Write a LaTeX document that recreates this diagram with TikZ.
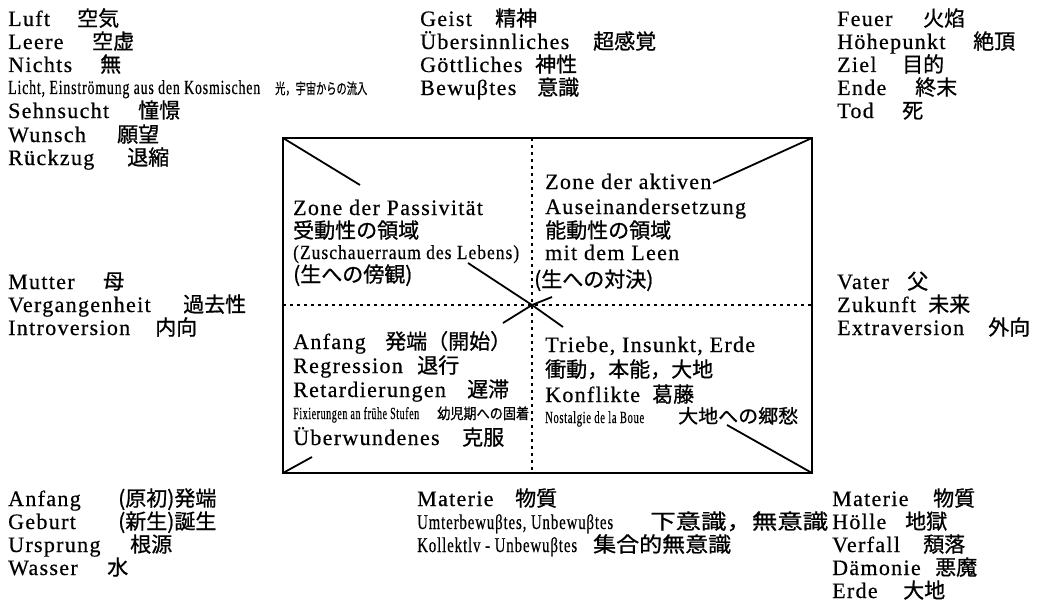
\documentclass[tikz,border=0pt]{standalone}
\usepackage{fontspec}
\usepackage{graphicx}
\setmainfont{Liberation Serif}[LetterSpace=6,FakeBold=0.5]
\newfontfamily\jp{Noto Sans CJK JP}[FakeBold=0.8]
\newcommand\J[1]{{\jp\fontsize{21}{24}\selectfont #1}}
\newcommand\rowt[3]{\makebox[#1][l]{#2}\J{#3}}
\newcommand\cond[2]{\resizebox{#1}{\height}{#2}}
\begin{document}
\begin{tikzpicture}[x=1pt,y=-1pt,
  txt/.style={anchor=base west,inner sep=0pt,font=\fontsize{22}{24}\selectfont},
  boxline/.style={line width=2.2pt},
  diag/.style={line width=1.8pt},
  dotline/.style={line width=1.6pt,dash pattern=on 3pt off 4pt}]
\useasboundingbox (0,0) rectangle (1042,610);
\fill[white] (0,0) rectangle (1042,610);
% ---------- top left
\node[txt] (tl1) at (8,26) {\rowt{69pt}{Luft}{空気}};
\node[txt] (tl2) at (8,49) {\rowt{84pt}{Leere}{空虚}};
\node[txt] (tl3) at (8,72) {\rowt{92pt}{Nichts}{無}};
\node[txt] (tl4) at (8,94) {\cond{252pt}{\fontsize{20}{20}\selectfont Licht, Einströmung aus den Kosmischen}\hspace{15pt}\cond{92pt}{\jp\fontsize{15}{18}\selectfont 光，宇宙からの流入}};
\node[txt] (tl5) at (8,118) {\rowt{130pt}{Sehnsucht}{憧憬}};
\node[txt] (tl6) at (8,142) {\rowt{109pt}{Wunsch}{願望}};
\node[txt] (tl7) at (8,165) {\rowt{119pt}{Rückzug}{退縮}};
% ---------- top middle
\node[txt] (tm1) at (420,26) {\rowt{75pt}{Geist}{精神}};
\node[txt] (tm2) at (420,49) {\rowt{173pt}{Übersinnliches}{超感覚}};
\node[txt] (tm3) at (420,72) {\rowt{115pt}{Göttliches}{神性}};
\node[txt] (tm4) at (420,95) {\rowt{117pt}{Bewuβtes}{意識}};
% ---------- top right
\node[txt] (tr1) at (837,26) {\rowt{86pt}{Feuer}{火焰}};
\node[txt] (tr2) at (837,49) {\rowt{136pt}{Höhepunkt}{絶頂}};
\node[txt] (tr3) at (837,72) {\rowt{65pt}{Ziel}{目的}};
\node[txt] (tr4) at (837,95) {\rowt{78pt}{Ende}{終末}};
\node[txt] (tr5) at (837,118) {\rowt{65pt}{Tod}{死}};
% ---------- middle left / right
\node[txt] (ml1) at (8,289) {\rowt{95pt}{Mutter}{母}};
\node[txt] (ml2) at (8,312) {\rowt{175pt}{Vergangenheit}{過去性}};
\node[txt] (ml3) at (8,335) {\rowt{147pt}{Introversion}{内向}};
\node[txt] (mr1) at (837,289) {\rowt{70pt}{Vater}{父}};
\node[txt] (mr2) at (837,312) {\rowt{91pt}{Zukunft}{未来}};
\node[txt] (mr3) at (837,335) {\rowt{151pt}{Extraversion}{外向}};
% ---------- bottom left
\node[txt] (bl1) at (8,506) {\rowt{110pt}{Anfang}{(原初)発端}};
\node[txt] (bl2) at (8,529) {\rowt{110pt}{Geburt}{(新生)誕生}};
\node[txt] (bl3) at (8,552) {\rowt{122pt}{Ursprung}{根源}};
\node[txt] (bl4) at (8,575) {\rowt{99pt}{Wasser}{水}};
% ---------- bottom middle
\node[txt] (bm1) at (417,506) {\rowt{98pt}{Materie}{物質}};
\node[txt] (bm2) at (417,529) {\makebox[233pt][l]{\cond{196pt}{\fontsize{21}{24}\selectfont Umterbewuβtes, Unbewuβtes}}\cond{178pt}{\J{下意識，無意識}}};
\node[txt] (bm3) at (417,552) {\makebox[176pt][l]{\cond{160pt}{\fontsize{21}{24}\selectfont Kollektlv - Unbewuβtes}}\cond{138pt}{\J{集合的無意識}}};
% ---------- bottom right
\node[txt] (br1) at (832,506) {\rowt{101pt}{Materie}{物質}};
\node[txt] (br2) at (832,529) {\rowt{73pt}{Hölle}{地獄}};
\node[txt] (br3) at (832,552) {\rowt{91pt}{Verfall}{頽落}};
\node[txt] (br4) at (832,575) {\rowt{103pt}{Dämonie}{悪魔}};
\node[txt] (br5) at (832,598) {\rowt{71pt}{Erde}{大地}};
% ---------- box
\coordinate (A) at (283,138);
\coordinate (B) at (812,138);
\coordinate (C) at (812,473);
\coordinate (D) at (283,473);
\coordinate (M) at (532,305);
\coordinate (Mt) at (532,138);
\coordinate (Mb) at (532,473);
\coordinate (Ml) at (283,305);
\coordinate (Mr) at (812,305);
\draw[dotline] (Mt) -- (Mb);
\draw[dotline] (Ml) -- (Mr);
\draw[boxline] (A) rectangle (C);
% ---------- box texts: upper left
\node[txt] (q1a) at (293,215) {Zone der Passivität};
\node[txt] (q1b) at (293,238) {\J{受動性の領域}};
\node[txt] (q1c) at (293,259) {\cond{226pt}{\fontsize{20}{24}\selectfont (Zuschauerraum des Lebens)}};
\node[txt] (q1d) at (293,282) {\J{(生への傍観)}};
% upper right
\node[txt] (q2a) at (545,189) {Zone der aktiven};
\node[txt] (q2b) at (545,214) {Auseinandersetzung};
\node[txt] (q2c) at (545,238) {\J{能動性の領域}};
\node[txt] (q2d) at (545,260) {mit dem Leen};
\node[txt] (q2e) at (534,287) {\J{(生への対決)}};
% lower left
\node[txt] (q3a) at (293,349) {\rowt{92pt}{Anfang}{発端（開始）}};
\node[txt] (q3b) at (293,373) {\rowt{124pt}{Regression}{退行}};
\node[txt] (q3c) at (293,397) {\rowt{174pt}{Retardierungen}{遅滞}};
\node[txt] (q3d) at (293,419) {\cond{126pt}{\fontsize{17}{18}\selectfont Fixierungen an frühe Stufen}\hspace{18pt}\cond{92pt}{\jp\fontsize{15}{18}\selectfont 幼児期への固着}};
\node[txt] (q3e) at (293,445) {\rowt{169pt}{Überwundenes}{克服}};
% lower right
\node[txt] (q4a) at (545,352) {Triebe, Insunkt, Erde};
\node[txt] (q4b) at (545,377) {\J{衝動，本能，大地}};
\node[txt] (q4c) at (545,402) {\rowt{107pt}{Konflikte}{葛藤}};
\node[txt] (q4d) at (545,423) {\cond{99pt}{\fontsize{17}{18}\selectfont Nostalgie de la Boue}\hspace{34pt}\cond{120pt}{\jp\fontsize{19}{18}\selectfont 大地への郷愁}};
% ---------- diagonals (broken by the texts)
\coordinate (d1) at (360,185);
\coordinate (d2) at (468,263);
\coordinate (d3) at (563,327);
\coordinate (d4) at (727,425);
\coordinate (e1) at (713,183);
\coordinate (e2) at (552,297);
\coordinate (e3) at (503,323);
\coordinate (e4) at (312,457);
\draw[diag] (A) -- (d1);
\draw[diag] (d2) -- (M) -- (d3);
\draw[diag] (d4) -- (C);
\draw[diag] (B) -- (e1);
\draw[diag] (e2) -- (M) -- (e3);
\draw[diag] (e4) -- (D);
\end{tikzpicture}
\end{document}
